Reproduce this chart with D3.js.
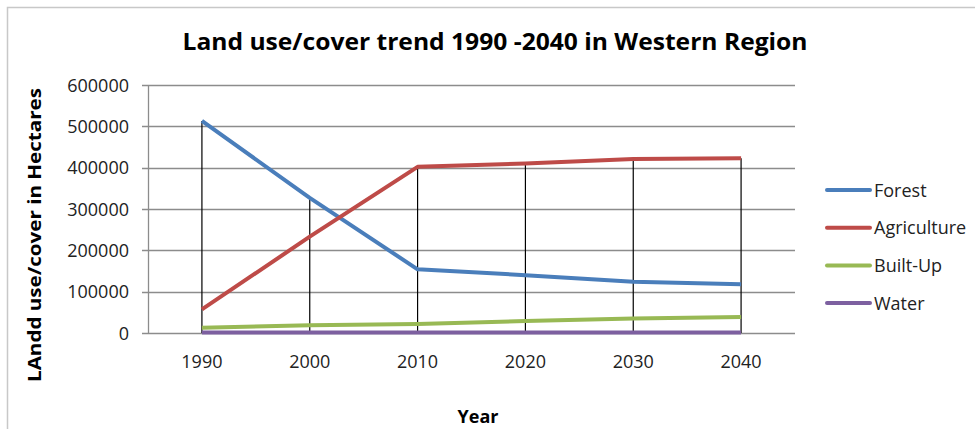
<!DOCTYPE html>
<html>
<head>
<meta charset="utf-8">
<script src="https://cdn.jsdelivr.net/npm/d3@7"></script>
<style>
  body { margin: 0; background: #fff; }
  text { font-family: "Open Sans", "DejaVu Sans", sans-serif; }
</style>
</head>
<body>
<svg id="chart" width="975" height="429"></svg>
<script>
// values
var years = ['1990', '2000', '2010', '2020', '2030', '2040'];
var forest = [513000, 327000, 154000, 140000, 124000, 118000];
var agriculture = [57000, 233000, 402000, 410000, 421000, 423000];
var builtUp = [13000, 19000, 22000, 29000, 35000, 39000];
var water = [1500, 1500, 1500, 1500, 1500, 1500];
var yTicks = [0, 100000, 200000, 300000, 400000, 500000, 600000];

var series = [
  {name: 'Forest', values: forest, color: '#4a7ebb'},
  {name: 'Agriculture', values: agriculture, color: '#be4b48'},
  {name: 'Built-Up', values: builtUp, color: '#98b954'},
  {name: 'Water', values: water, color: '#7d60a0'}
];

var svg = d3.select('#chart');
var plotLeft = 148, plotRight = 795, plotTop = 85, plotBottom = 333;

// outer frame of the chart
svg.append('path').attr('d', 'M7.5,429 L7.5,7.5 L975,7.5').attr('fill', 'none').attr('stroke', '#c8c8c8').attr('stroke-width', 1.5);

var x = d3.scaleBand().domain(years).range([plotLeft, plotRight]);
var y = d3.scaleLinear().domain([0, 600000]).range([plotBottom, plotTop]);

// gridlines
svg.append('g').selectAll('line').data(yTicks).enter().append('line')
  .attr('x1', plotLeft - 6).attr('x2', plotRight)
  .attr('y1', function(d){ return Math.round(y(d)) + 0.5; })
  .attr('y2', function(d){ return Math.round(y(d)) + 0.5; })
  .attr('stroke', '#8c8c8c').attr('stroke-width', 1.3);

svg.append('line').attr('x1', plotLeft + 0.5).attr('x2', plotLeft + 0.5).attr('y1', plotTop).attr('y2', plotBottom)
  .attr('stroke', '#8c8c8c').attr('stroke-width', 1.3);

// y tick labels
svg.append('g').selectAll('text').data(yTicks).enter().append('text')
  .attr('x', 129).attr('y', function(d){ return y(d) + 6.5; })
  .attr('text-anchor', 'end').attr('font-size', 18).attr('fill', '#222')
  .text(function(d){ return d; });

// x tick labels
svg.append('g').selectAll('text').data(years).enter().append('text')
  .attr('x', function(d){ return x(d) + x.bandwidth() / 2; }).attr('y', 368)
  .attr('text-anchor', 'middle').attr('font-size', 18).attr('fill', '#222')
  .text(function(d){ return d; });

// drop lines from the highest value down to the axis
svg.append('g').selectAll('line').data(years).enter().append('line')
  .attr('x1', function(d){ return x(d) + x.bandwidth() / 2; })
  .attr('x2', function(d){ return x(d) + x.bandwidth() / 2; })
  .attr('y1', function(d, i){ return y(d3.max(series, function(s){ return s.values[i]; })); })
  .attr('y2', plotBottom)
  .attr('stroke', '#000').attr('stroke-width', 1.2);

var line = d3.line()
  .x(function(d, i){ return x(years[i]) + x.bandwidth() / 2; })
  .y(function(d){ return y(d); });

svg.append('g').selectAll('path').data(series).enter().append('path')
  .attr('d', function(s){ return line(s.values); })
  .attr('fill', 'none').attr('stroke', function(s){ return s.color; })
  .attr('stroke-width', 4).attr('stroke-linejoin', 'round');

// legend
var legend = svg.append('g').selectAll('g').data(series).enter().append('g')
  .attr('transform', function(d, i){ return 'translate(827,' + (190 + i * 37.7) + ')'; });
legend.append('line').attr('x1', 0).attr('x2', 43).attr('y1', 0).attr('y2', 0)
  .attr('stroke', function(d){ return d.color; }).attr('stroke-width', 4).attr('stroke-linecap', 'round');
legend.append('text').attr('x', 47).attr('y', 6.5).attr('font-size', 18).attr('fill', '#222')
  .text(function(d){ return d.name; });

// titles
svg.append('text').attr('x', 495).attr('y', 50).attr('text-anchor', 'middle')
  .attr('font-size', 24).attr('font-weight', 'bold').attr('fill', '#000')
  .attr('textLength', 625).attr('lengthAdjust', 'spacingAndGlyphs')
  .text('Land use/cover trend 1990 -2040 in Western Region');

svg.append('text').attr('transform', 'translate(41,235) rotate(-90)').attr('text-anchor', 'middle')
  .attr('font-size', 18.5).attr('font-weight', 'bold').attr('fill', '#000')
  .attr('textLength', 294).attr('lengthAdjust', 'spacingAndGlyphs')
  .text('LAndd use/cover in Hectares');

svg.append('text').attr('x', 478).attr('y', 423).attr('text-anchor', 'middle')
  .attr('font-size', 18).attr('font-weight', 'bold').attr('fill', '#000')
  .text('Year');
</script>
</body>
</html>
